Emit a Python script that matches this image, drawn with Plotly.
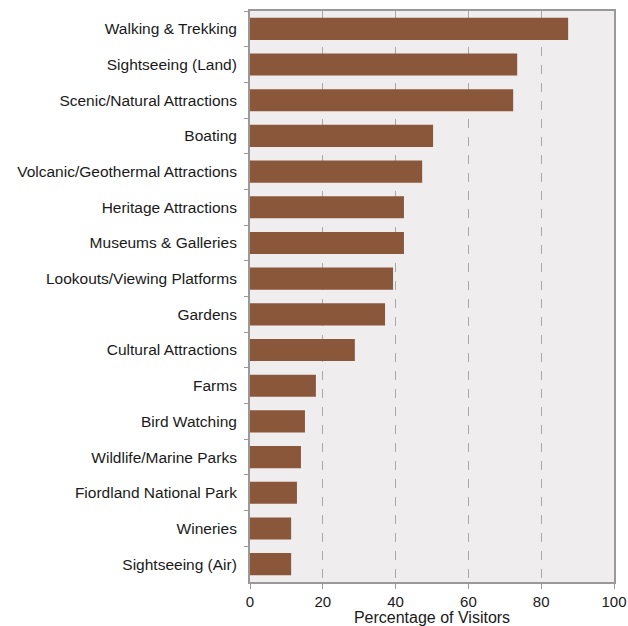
import plotly.graph_objects as go

categories = [
    "Walking & Trekking", "Sightseeing (Land)", "Scenic/Natural Attractions", "Boating",
    "Volcanic/Geothermal Attractions", "Heritage Attractions", "Museums & Galleries",
    "Lookouts/Viewing Platforms", "Gardens", "Cultural Attractions", "Farms",
    "Bird Watching", "Wildlife/Marine Parks", "Fiordland National Park", "Wineries",
    "Sightseeing (Air)",
]
values = [87.4, 73.4, 72.3, 50.3, 47.3, 42.3, 42.3, 39.3, 37.1, 28.8, 18.1, 15.1, 14.0, 12.9, 11.3, 11.3]
x_ticks = [0, 20, 40, 60, 80, 100]

fig = go.Figure(go.Bar(
    x=values, y=categories, orientation="h",
    marker=dict(color="#8B573B", line=dict(width=0)),
))

fig.update_layout(
    width=628, height=626,
    margin=dict(l=250, r=14, t=11, b=44, autoexpand=False),
    paper_bgcolor="white", plot_bgcolor="#EFEDEE",
    bargap=0.38, showlegend=False,
    font=dict(family="Liberation Sans, Arial, sans-serif", size=15.5, color="#1a1a1a"),
)
fig.update_xaxes(
    range=[0, 100], tickvals=x_ticks, ticks="outside", ticklen=5, tickcolor="#999999",
    showgrid=True, gridcolor="#A8A8A8", griddash="dash", gridwidth=1,
    showline=True, linecolor="#999999", linewidth=2, mirror=True, zeroline=False,
    title=dict(text="Percentage of Visitors", standoff=3, font=dict(size=16)),
    tickfont=dict(size=15), automargin=False,
)
fig.update_yaxes(
    autorange="reversed", ticks="outside", ticklen=4, tickcolor="#999999", tickson="boundaries",
    showline=True, linecolor="#999999", linewidth=2, mirror=True, showgrid=False,
    tickfont=dict(size=15.5), automargin=False, ticklabelstandoff=8,
)

fig.write_html(
    "out.html",
    config={"displayModeBar": False},
    post_script="document.body.style.margin='0';document.body.style.overflow='hidden';",
)
